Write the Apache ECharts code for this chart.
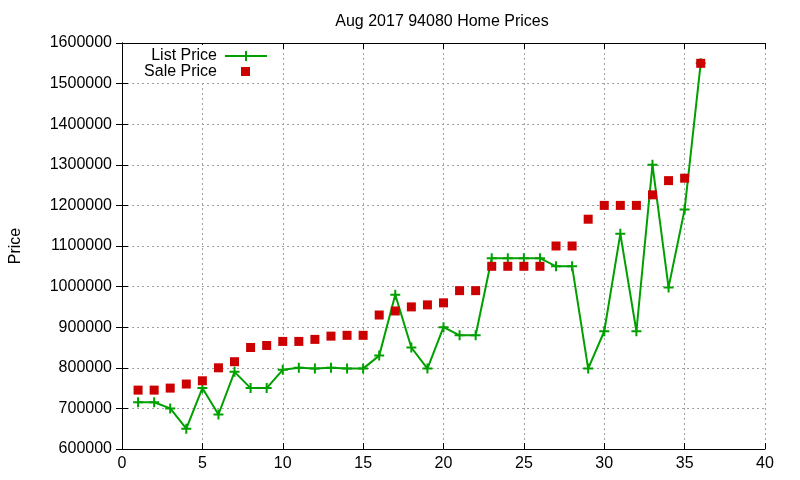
<!DOCTYPE html>
<html>
<head>
    <meta charset="utf-8">
    <title>Aug 2017 94080 Home Prices</title>
    <script src="https://cdn.jsdelivr.net/npm/echarts@6/dist/echarts.min.js"></script>
    <style>
        * { margin: 0; padding: 0 }
        html, body { width: 100%; height: 100%; background: #fff; }
        #main { width: 800px; height: 480px; }
    </style>
</head>
<body>
<div id="main"></div>
<script type="text/javascript">
    /*-------------------- data -----------------------------*/
    var homeIndex = [1, 2, 3, 4, 5, 6, 7, 8, 9, 10, 11, 12, 13, 14, 15, 16, 17, 18,
        19, 20, 21, 22, 23, 24, 25, 26, 27, 28, 29, 30, 31, 32, 33, 34, 35, 36];
    var listPrice = [715000, 715000, 700000, 650000, 750000, 685000, 790000, 750000, 750000,
        795000, 800000, 798000, 800000, 798000, 798000, 830000, 980000, 850000,
        798000, 900000, 880000, 880000, 1070000, 1070000, 1070000, 1070000, 1050000, 1050000,
        798000, 890000, 1130000, 890000, 1300000, 998000, 1190000, 1550000];
    var salePrice = [745000, 745000, 750000, 760000, 768000, 800000, 815000, 850000, 855000,
        865000, 865000, 870000, 878000, 880000, 880000, 930000, 940000, 950000,
        955000, 960000, 990000, 990000, 1050000, 1050000, 1050000, 1050000, 1100000, 1100000,
        1166000, 1200000, 1200000, 1200000, 1226000, 1261000, 1267000, 1550000];

    var FONT = '"Liberation Sans", Arial, sans-serif';
    var GREEN = '#00a000';
    var RED = '#cc0000';
    var PLUS = 'path://M4,0H6V4H10V6H6V10H4V6H0V4H4Z';

    function pairs(xs, ys) {
        return xs.map(function (x, i) { return [x, ys[i]]; });
    }

    var gridLine = { show: true, lineStyle: { color: '#a0a0a0', type: [2, 3], width: 1 } };
    var boxLine = { show: true, lineStyle: { color: '#000', width: 1 } };
    var inTick = { show: true, inside: true, length: 6, lineStyle: { color: '#000' } };

    var chart = echarts.init(document.getElementById('main'));
    chart.setOption({
        animation: false,
        backgroundColor: '#fff',
        textStyle: { fontFamily: FONT },
        title: {
            text: 'Aug 2017 94080 Home Prices',
            left: 437,
            textAlign: 'center',
            top: 9,
            textStyle: { fontSize: 16, fontWeight: 'normal', color: '#000', fontFamily: FONT }
        },
        grid: { left: 118, right: 35, top: 43, bottom: 31 },
        xAxis: [{
            type: 'value', min: 0, max: 40, interval: 5,
            axisLine: boxLine, axisTick: inTick, splitLine: gridLine,
            axisLabel: { color: '#000', fontSize: 16, margin: 7, fontFamily: FONT }
        }, {
            type: 'value', position: 'top', min: 0, max: 40, interval: 5,
            axisLine: boxLine, axisTick: inTick, splitLine: { show: false },
            axisLabel: { show: false }
        }],
        yAxis: [{
            type: 'value', min: 600000, max: 1600000, interval: 100000,
            name: 'Price', nameLocation: 'middle', nameGap: 98, nameRotate: 90,
            nameTextStyle: { color: '#000', fontSize: 16, fontFamily: FONT },
            axisLine: boxLine, axisTick: inTick, splitLine: gridLine,
            axisLabel: {
                color: '#000', fontSize: 16, margin: 10, fontFamily: FONT,
                formatter: function (v) { return String(v); }
            }
        }, {
            type: 'value', position: 'right', min: 600000, max: 1600000, interval: 100000,
            axisLine: boxLine, axisTick: inTick, splitLine: { show: false },
            axisLabel: { show: false }
        }],
        graphic: [
            { type: 'rect', left: 140, top: 45, shape: { width: 135, height: 36 }, style: { fill: '#fff' }, z: 100 },
            { type: 'text', right: 800 - 217, top: 48, z: 101,
              style: { text: 'List Price', fill: '#000', font: '16px ' + FONT, align: 'right' } },
            { type: 'text', right: 800 - 217, top: 64, z: 101,
              style: { text: 'Sale Price', fill: '#000', font: '16px ' + FONT, align: 'right' } },
            { type: 'line', z: 101, shape: { x1: 225, y1: 56, x2: 267, y2: 56 },
              style: { stroke: GREEN, lineWidth: 2 } },
            { type: 'rect', z: 101, shape: { x: 245, y: 51, width: 2, height: 10 }, style: { fill: GREEN } },
            { type: 'rect', z: 101, shape: { x: 241, y: 67, width: 9, height: 9 }, style: { fill: RED } }
        ],
        series: [{
            name: 'List Price',
            type: 'line',
            data: pairs(homeIndex, listPrice),
            symbol: PLUS,
            symbolSize: 10,
            showSymbol: true,
            lineStyle: { color: GREEN, width: 2 },
            itemStyle: { color: GREEN },
            emphasis: { disabled: true },
            z: 2
        }, {
            name: 'Sale Price',
            type: 'scatter',
            data: pairs(homeIndex, salePrice),
            symbol: 'rect',
            symbolSize: 9,
            itemStyle: { color: RED, opacity: 1 },
            emphasis: { disabled: true },
            z: 3
        }]
    });
</script>
</body>
</html>
